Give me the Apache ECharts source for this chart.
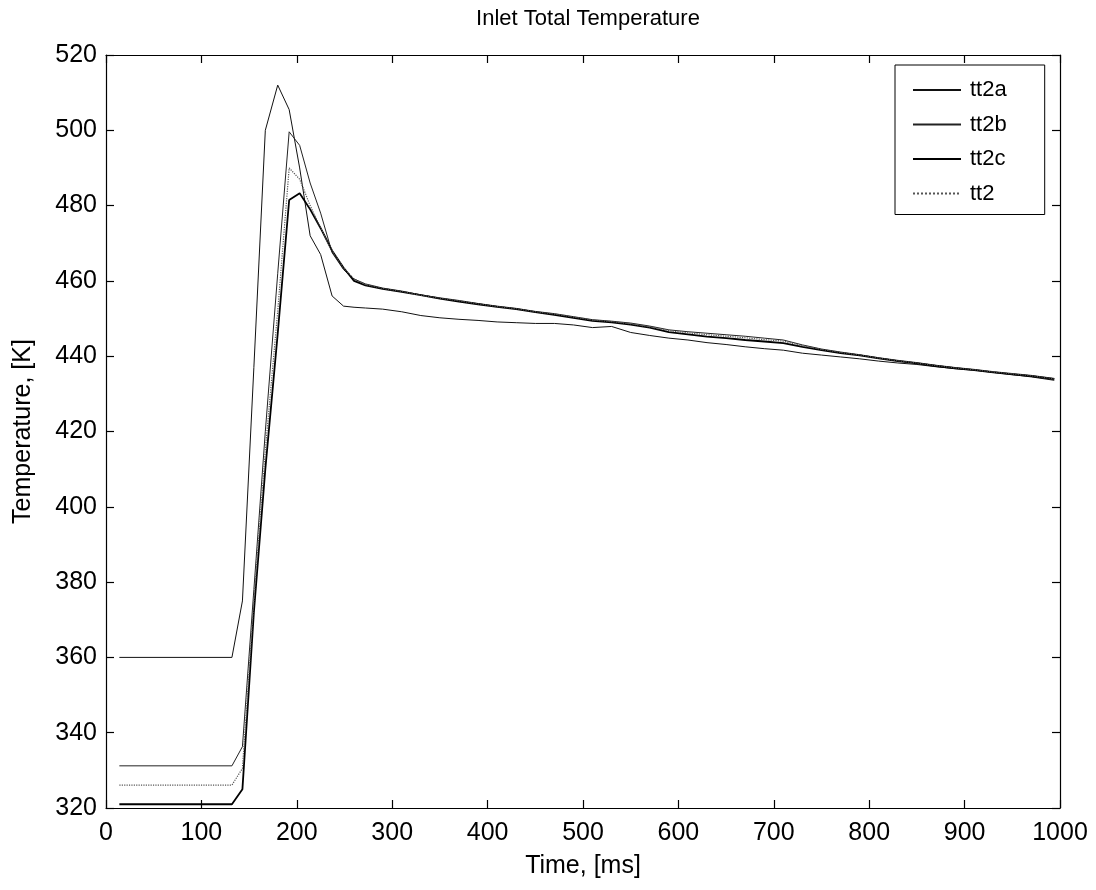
<!DOCTYPE html>
<html>
<head>
<meta charset="utf-8">
<script src="https://cdn.jsdelivr.net/npm/echarts@6/dist/echarts.min.js"></script>
<style>
html,body{margin:0;padding:0;background:#fff;}
#chart{width:1096px;height:890px;}
</style>
</head>
<body>
<div id="chart"></div>
<script>
// Time samples [ms]
const time = [14, 132, 143, 155, 167, 180, 192, 203, 214, 225, 237, 249, 260, 272, 290, 310, 330, 350, 370, 390, 410, 430, 450, 470, 490, 510, 530, 550, 570, 590, 610, 630, 650, 670, 690, 710, 730, 750, 770, 790, 810, 830, 850, 870, 890, 910, 930, 950, 970, 994];

const tt2a = [360, 360, 375, 437, 500, 512, 505.5, 490, 472, 467, 456, 453.3, 453, 452.8, 452.5, 451.8, 450.8, 450.2, 449.8, 449.5, 449.1, 448.9, 448.7, 448.7, 448.3, 447.6, 447.9, 446.3, 445.5, 444.8, 444.3, 443.6, 443.1, 442.5, 442.0, 441.6, 440.8, 440.3, 439.8, 439.3, 438.7, 438.2, 437.8, 437.2, 436.7, 436.3, 435.7, 435.1, 434.5, 433.6];
const tt2b = [331.2, 331.2, 336.3, 378, 420, 462, 499.6, 496, 486, 478, 467.5, 463, 460.5, 459.2, 458.1, 457.3, 456.3, 455.5, 454.8, 454.0, 453.3, 452.7, 451.9, 451.3, 450.5, 449.7, 449.3, 448.8, 448.0, 447.0, 446.5, 446.1, 445.7, 445.3, 444.8, 444.3, 443.0, 441.9, 441.1, 440.4, 439.6, 438.9, 438.3, 437.6, 437.0, 436.5, 435.9, 435.4, 434.9, 434.1];
const tt2c = [321, 321, 325, 372, 410, 446, 481.5, 483.3, 479, 474, 468, 463.5, 460, 458.8, 457.9, 457.1, 456.2, 455.3, 454.5, 453.8, 453.1, 452.5, 451.7, 451.0, 450.2, 449.4, 449.0, 448.4, 447.6, 446.4, 445.8, 445.2, 444.8, 444.3, 443.9, 443.5, 442.5, 441.6, 440.8, 440.2, 439.4, 438.7, 438.1, 437.4, 436.8, 436.3, 435.7, 435.2, 434.7, 433.9];
const tt2 = [326.1, 326.1, 330.5, 375, 415, 452, 490, 487, 480, 474, 468, 463.5, 460.5, 459.0, 458.0, 457.2, 456.2, 455.4, 454.7, 453.9, 453.2, 452.6, 451.8, 451.2, 450.4, 449.6, 449.2, 448.6, 447.8, 446.8, 446.2, 445.7, 445.3, 444.9, 444.4, 444.0, 442.8, 441.8, 441.0, 440.3, 439.5, 438.8, 438.2, 437.5, 436.9, 436.4, 435.8, 435.3, 434.8, 434.0];

const seriesNames = ['tt2a', 'tt2b', 'tt2c', 'tt2'];
const seriesValues = [tt2a, tt2b, tt2c, tt2];

const FONT = 'Liberation Sans, Arial, Helvetica, sans-serif';
const styles = [
  {color: '#111111', width: 1, type: 'solid'},
  {color: '#222222', width: 1, type: 'solid'},
  {color: '#000000', width: 1.8, type: 'solid'},
  {color: '#555555', width: 1.2, type: 'dotted'}
];

const chart = echarts.init(document.getElementById('chart'), null, {renderer: 'canvas'});

const axisCommon = {
  axisLine: {show: true, onZero: false, lineStyle: {color: '#000', width: 1.2}},
  axisTick: {show: true, inside: true, length: 8, lineStyle: {color: '#000', width: 1.2}},
  splitLine: {show: false}
};

const option = {
  backgroundColor: '#fff',
  animation: false,
  title: {
    text: 'Inlet Total Temperature',
    left: 583, top: 3, textAlign: 'center',
    textStyle: {fontFamily: FONT, fontSize: 22, fontWeight: 'normal', color: '#000'}
  },
  grid: {left: 106, right: 36, top: 55, bottom: 82, containLabel: false},
  legend: {
    orient: 'vertical',
    left: 895, top: 65,
    backgroundColor: '#fff',
    borderColor: '#000', borderWidth: 1,
    padding: [14, 38, 10, 17],
    itemWidth: 48, itemHeight: 14, itemGap: 12.5,
    itemStyle: {opacity: 0},
    textStyle: {fontFamily: FONT, fontSize: 22, color: '#000', lineHeight: 22, padding: [0, 0, 0, 4]},
    data: seriesNames
  },
  xAxis: [
    Object.assign({}, axisCommon, {
      type: 'value', min: 0, max: 1000, interval: 100, position: 'bottom',
      name: 'Time, [ms]', nameLocation: 'middle', nameGap: 46,
      nameTextStyle: {fontFamily: FONT, fontSize: 25, color: '#000'},
      axisLabel: {fontFamily: FONT, fontSize: 25, color: '#000', margin: 13, formatter: v => String(v)}
    }),
    Object.assign({}, axisCommon, {
      type: 'value', min: 0, max: 1000, interval: 100, position: 'top',
      axisLabel: {show: false}
    })
  ],
  yAxis: [
    Object.assign({}, axisCommon, {
      type: 'value', min: 320, max: 520, interval: 20, position: 'left',
      name: 'Temperature, [K]', nameLocation: 'middle', nameGap: 70,
      nameTextStyle: {fontFamily: FONT, fontSize: 25, color: '#000'},
      axisLabel: {fontFamily: FONT, fontSize: 25, color: '#000', margin: 9, formatter: v => String(v)}
    }),
    Object.assign({}, axisCommon, {
      type: 'value', min: 320, max: 520, interval: 20, position: 'right',
      axisLabel: {show: false}
    })
  ],
  series: seriesNames.map((name, i) => ({
    name: name,
    type: 'line',
    xAxisIndex: 0, yAxisIndex: 0,
    symbol: 'none',
    showSymbol: false,
    smooth: false,
    data: time.map((t, j) => [t, seriesValues[i][j]]),
    lineStyle: {color: styles[i].color, width: styles[i].width, type: styles[i].type},
    itemStyle: {color: 'rgba(0,0,0,0)'},
    z: 3 + i
  }))
};

chart.setOption(option);
</script>
</body>
</html>
